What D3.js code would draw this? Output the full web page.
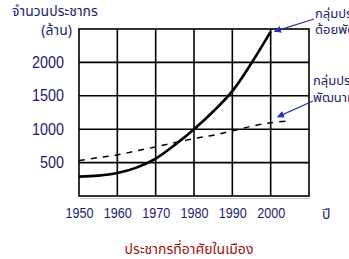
<!DOCTYPE html>
<html>
<head>
<meta charset="utf-8">
<script src="https://cdn.jsdelivr.net/npm/d3@7"></script>
<style>
  body { margin: 0; background: #fff; }
  svg { display: block; }
</style>
</head>
<body>
<div id="grafica"></div>
<script>
// datos
anios      = [1950, 1955, 1960, 1965, 1970, 1975, 1980, 1985, 1990, 1995, 2000]
desarrollo = [290, 305, 345, 425, 560, 765, 1000, 1265, 1570, 1990, 2460]
anios_des  = [1950, 1955, 1960, 1965, 1970, 1975, 1980, 1985, 1990, 1995, 2000, 2005]
desarrollado = [530, 575, 615, 675, 735, 800, 860, 910, 975, 1045, 1095, 1125]
xticks = [1950, 1960, 1970, 1980, 1990, 2000]
yticks = [500, 1000, 1500, 2000]

ancho_total = 349
alto_total  = 259
margin = { left: 79, right: 40, top: 29, bottom: 63 }

ancho = ancho_total - margin.left - margin.right
alto  = alto_total - margin.top - margin.bottom

azul = '#1c1c6c'
flecha = '#2433b4'
fuente = '"Liberation Sans", Arial, sans-serif'
thai = 'Tahoma, "Noto Sans Thai", "Noto Sans", sans-serif'

svg = d3
        .select('#grafica')
        .append('svg')
        .attr('width', ancho_total)
        .attr('height', alto_total)

svg.append('defs')
  .append('marker')
    .attr('id', 'punta')
    .attr('viewBox', '0 0 10 10')
    .attr('refX', 9)
    .attr('refY', 5)
    .attr('markerWidth', 7)
    .attr('markerHeight', 7)
    .attr('markerUnits', 'userSpaceOnUse')
    .attr('orient', 'auto')
  .append('path')
    .attr('d', 'M0,0 L10,5 L0,10 z')
    .attr('fill', flecha)

g = svg
      .append('g')
      .attr('transform', `translate(${margin.left}, ${margin.top})`)

x = d3.scaleLinear().domain([1950, 2010]).range([0, ancho])
y = d3.scaleLinear().domain([0, 2500]).range([alto, 0])

// sombra gris bajo el marco
g.append('line')
  .attr('x1', 1).attr('x2', ancho + 1)
  .attr('y1', alto + 2.5).attr('y2', alto + 2.5)
  .attr('stroke', '#c8c8c8')
  .attr('stroke-width', 1)

// rejilla
g.selectAll('.vx')
  .data(d3.range(1960, 2010, 10))
  .enter()
  .append('line')
    .attr('x1', (d) => x(d))
    .attr('x2', (d) => x(d))
    .attr('y1', 0)
    .attr('y2', alto)
    .attr('stroke', 'black')
    .attr('stroke-width', 1.6)

g.selectAll('.hy')
  .data(yticks)
  .enter()
  .append('line')
    .attr('x1', 0)
    .attr('x2', ancho)
    .attr('y1', (d) => y(d))
    .attr('y2', (d) => y(d))
    .attr('stroke', 'black')
    .attr('stroke-width', 1.6)

g.append('rect')
  .attr('width', ancho)
  .attr('height', alto)
  .attr('fill', 'none')
  .attr('stroke', 'black')
  .attr('stroke-width', 1.6)

// ejes
xAxisCall = d3.axisBottom(x)
              .tickValues(xticks)
              .tickFormat(d3.format('d'))
              .tickSize(0)
              .tickPadding(12)
xGroup = g.append('g')
          .attr('transform', `translate(0, ${alto})`)
          .call(xAxisCall)
xGroup.select('.domain').remove()
xGroup.selectAll('text')
  .attr('font-family', fuente)
  .attr('font-size', '14px')
  .attr('fill', azul)
  .attr('textLength', 28)
  .attr('lengthAdjust', 'spacingAndGlyphs')

yAxisCall = d3.axisLeft(y)
              .tickValues(yticks)
              .tickFormat(d3.format('d'))
              .tickSize(0)
              .tickPadding(15)
yGroup = g.append('g').call(yAxisCall)
yGroup.select('.domain').remove()
yGroup.selectAll('text')
  .attr('font-family', fuente)
  .attr('font-size', '16px')
  .attr('fill', azul)
  .attr('textLength', (d) => d >= 1000 ? 32 : 24)
  .attr('lengthAdjust', 'spacingAndGlyphs')

// lineas
linea = d3.line()
          .x((d) => x(d[0]))
          .y((d) => y(d[1]))
          .curve(d3.curveCatmullRom)

g.append('path')
  .datum(anios_des.map((a, i) => [a, desarrollado[i]]))
  .attr('d', linea)
  .attr('fill', 'none')
  .attr('stroke', 'black')
  .attr('stroke-width', 1.5)
  .attr('stroke-dasharray', '6,6')

g.append('path')
  .datum(anios.map((a, i) => [a, desarrollo[i]]))
  .attr('d', linea)
  .attr('fill', 'none')
  .attr('stroke', 'black')
  .attr('stroke-width', 2.6)

// flechas
g.append('line')
  .attr('x1', 235).attr('y1', -10)
  .attr('x2', x(2000) + 4).attr('y2', y(2450) - 1)
  .attr('stroke', flecha)
  .attr('stroke-width', 1.2)
  .attr('marker-end', 'url(#punta)')

g.append('line')
  .attr('x1', 234).attr('y1', 72)
  .attr('x2', x(2000) + 7).attr('y2', y(1095) - 6)
  .attr('stroke', flecha)
  .attr('stroke-width', 1.2)
  .attr('marker-end', 'url(#punta)')

// textos
textos = [
  { t: 'จำนวนประชากร', x: 12, y: 16, a: 'start', c: azul, s: 14 },
  { t: '(ล้าน)', x: 72, y: 35, a: 'end', c: azul, s: 14 },
  { t: 'กลุ่มประเทศ', x: 315, y: 18, a: 'start', c: azul, s: 13 },
  { t: 'ด้อยพัฒนา', x: 315, y: 34, a: 'start', c: azul, s: 13 },
  { t: 'กลุ่มประเทศ', x: 313, y: 85, a: 'start', c: azul, s: 13 },
  { t: 'พัฒนาแล้ว', x: 313, y: 102, a: 'start', c: azul, s: 13 },
  { t: 'ปี', x: 322, y: 219, a: 'start', c: azul, s: 14 },
  { t: 'ประชากรที่อาศัยในเมือง', x: 189, y: 254, a: 'middle', c: '#9a1010', s: 14 }
]

svg.selectAll('.etiqueta')
  .data(textos)
  .enter()
  .append('text')
    .attr('x', (d) => d.x)
    .attr('y', (d) => d.y)
    .attr('text-anchor', (d) => d.a)
    .attr('font-family', thai)
    .attr('font-size', (d) => d.s + 'px')
    .attr('fill', (d) => d.c)
    .text((d) => d.t)
</script>
</body>
</html>
